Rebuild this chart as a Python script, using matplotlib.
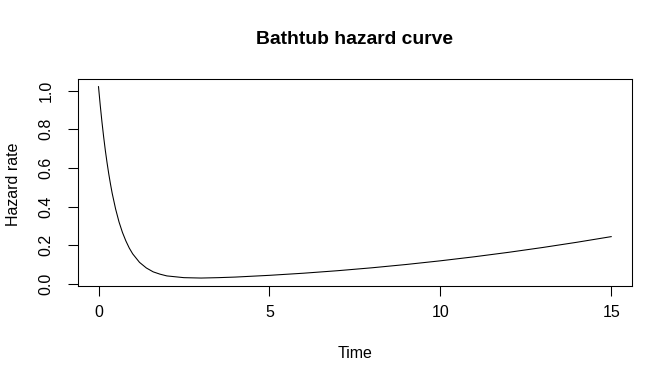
import matplotlib
matplotlib.use("Agg")
import matplotlib.pyplot as plt

plt.rcParams['font.family'] = ['Liberation Sans', 'DejaVu Sans']

# Values
time = [0, 0.05, 0.1, 0.15, 0.2, 0.25, 0.3, 0.35, 0.4, 0.5, 0.6, 0.7, 0.8,
        0.9, 1.0, 1.2, 1.4, 1.6, 1.8, 2.0, 2.5, 3.0, 3.5, 4.0, 5.0, 6.0, 7.0,
        8.0, 9.0, 10.0, 11.0, 12.0, 13.0, 14.0, 15.0]
hazard = [1.020, 0.925, 0.839, 0.761, 0.690, 0.627, 0.569, 0.517, 0.469,
          0.388, 0.321, 0.267, 0.223, 0.186, 0.156, 0.112, 0.083, 0.063,
          0.051, 0.042, 0.033, 0.031, 0.033, 0.036, 0.045, 0.056, 0.069,
          0.084, 0.101, 0.120, 0.141, 0.164, 0.189, 0.216, 0.245]
x_ticks = [0, 5, 10, 15]
y_ticks = [0.0, 0.2, 0.4, 0.6, 0.8, 1.0]
y_tick_labels = ["0.0", "0.2", "0.4", "0.6", "0.8", "1.0"]

W, H = 672, 384
fig = plt.figure(figsize=(W / 96, H / 96), dpi=96)
ax = fig.add_axes([78 / W, 1 - 285.7 / H, (631.7 - 78) / W, (285.7 - 79) / H])

ax.plot(time, hazard, color='black', linewidth=0.8)

xr = max(time) - min(time)
yr = max(hazard) - min(hazard)
ax.set_xlim(min(time) - 0.04 * xr, max(time) + 0.04 * xr)
ax.set_ylim(min(hazard) - 0.04 * yr, max(hazard) + 0.04 * yr)

ax.set_xticks(x_ticks)
ax.set_xticklabels([str(v) for v in x_ticks])
ax.set_yticks(y_ticks)
ax.set_yticklabels(y_tick_labels, rotation=90, va='center')

for s in ax.spines.values():
    s.set_linewidth(0.8)
    s.set_color('black')
ax.tick_params(axis='both', direction='out', length=7.2, width=0.8,
               labelsize=12, colors='black')
ax.tick_params(axis='x', pad=7)
ax.tick_params(axis='y', pad=11)

fig.text(355 / W, 1 - 40 / H, "Bathtub hazard curve", ha='center', va='center',
         fontsize=14.4, fontweight='bold')
fig.text(355 / W, 1 - 353 / H, "Time", ha='center', va='center', fontsize=12)
fig.text(14 / W, 1 - 184 / H, "Hazard rate", ha='center', va='center',
         fontsize=12, rotation=90)

fig.savefig("out.png", dpi=96)
